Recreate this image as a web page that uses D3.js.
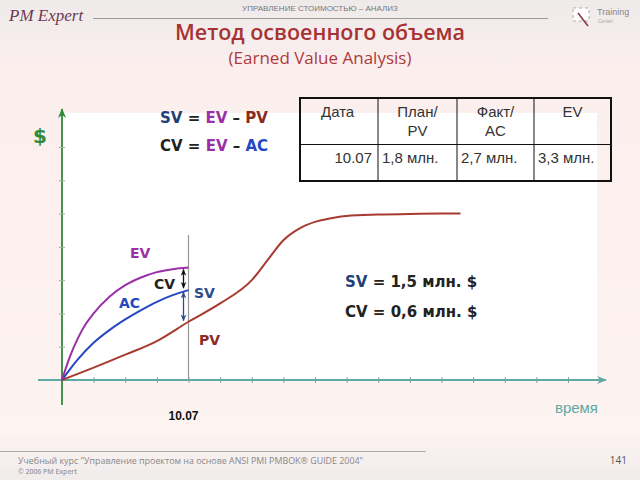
<!DOCTYPE html>
<html><head><meta charset="utf-8">
<script src="https://cdn.jsdelivr.net/npm/d3@7"></script>
<style>body{margin:0;padding:0;overflow:hidden}svg{display:block}</style>
</head><body>
<script>
// ---- data ----
const pvT = [0,1,2,3,4,5,6,6.5,7,7.5,8,8.5,9,10,11,12,12.6];
const pvV = [0,0.37,0.76,1.17,1.75,2.3,3.0,3.6,4.2,4.55,4.75,4.86,4.93,4.97,4.99,5.0,5.0];
const evT = [0,0.25,0.5,0.75,1,1.5,2,2.5,3,3.5,4];
const evV = [0,0.7,1.25,1.68,2.0,2.5,2.85,3.08,3.24,3.33,3.38];
const acT = [0,0.5,1,1.5,2,2.5,3,3.5,4];
const acV = [0,0.62,1.12,1.5,1.82,2.1,2.35,2.55,2.7];
const statusT = 4;
const statusLabel = "10.07";
const xTicks = d3.range(1,17);
const yTicks = d3.range(1,8);
const tableHead = [["Дата"],["План/","PV"],["Факт/","AC"],["EV"]];
const tableRow = ["10.07","1,8 млн.","2,7 млн.","3,3 млн."];
const resultSV = "1,5 млн. $";
const resultCV = "0,6 млн. $";

const W=640,H=480;
const svg=d3.select("body").append("svg").attr("width",W).attr("height",H);
const defs=svg.append("defs");
const bg=defs.append("linearGradient").attr("id","bg").attr("x1",0).attr("y1",0).attr("x2",0).attr("y2",1);
bg.append("stop").attr("offset","0").attr("stop-color","#efeaea");
bg.append("stop").attr("offset","0.15").attr("stop-color","#fbefee");
bg.append("stop").attr("offset","0.9").attr("stop-color","#fdf3f1");
bg.append("stop").attr("offset","1").attr("stop-color","#f0ecec");
svg.append("rect").attr("width",W).attr("height",H).attr("fill","url(#bg)");

function marker(id,color,size){
  defs.append("marker").attr("id",id).attr("viewBox","0 0 10 10").attr("refX",9).attr("refY",5)
   .attr("markerWidth",size).attr("markerHeight",size).attr("orient","auto-start-reverse")
   .attr("markerUnits","userSpaceOnUse")
   .append("path").attr("d","M0,1 L10,5 L0,9 L3,5 Z").attr("fill",color);
}
marker("arrT","#5fa9a3",10);
marker("arrG","#2f8a3a",10);
marker("arrK","#111",7);
marker("arrB","#2d4d8a",7);

// header
svg.append("text").attr("x",9).attr("y",21).text("PM Expert")
  .attr("font-family","Liberation Serif").attr("font-style","italic").attr("font-size",17).attr("fill","#6b3a55");
svg.append("line").attr("x1",93).attr("x2",548).attr("y1",18.5).attr("y2",18.5).attr("stroke","#9a9a9a").attr("stroke-width",1);
svg.append("text").attr("x",320).attr("y",11).attr("text-anchor","middle").text("УПРАВЛЕНИЕ СТОИМОСТЬЮ – АНАЛИЗ")
  .attr("font-family","Liberation Sans Narrow, Liberation Sans").attr("font-size",8).attr("fill","#777");
svg.append("rect").attr("x",573).attr("y",8).attr("width",16).attr("height",13).attr("fill","#fff").attr("stroke","#aaa").attr("stroke-dasharray","3,3");
svg.append("line").attr("x1",578).attr("y1",13).attr("x2",588).attr("y2",26).attr("stroke","#8a3040").attr("stroke-width",1.5);
svg.append("text").attr("x",597).attr("y",15).text("Training").attr("font-family","Liberation Sans").attr("font-size",9).attr("fill","#888");
svg.append("text").attr("x",598).attr("y",23).text("Center").attr("font-family","Liberation Sans").attr("font-size",5).attr("fill","#aaa");

// title
svg.append("text").attr("x",320).attr("y",40).attr("text-anchor","middle").text("Метод освоенного объема")
  .attr("font-family","Open Sans").attr("font-weight",600).attr("font-size",21.5).attr("fill","#a83232");
svg.append("text").attr("x",320).attr("y",64).attr("text-anchor","middle").text("(Earned Value Analysis)")
  .attr("font-family","Open Sans").attr("font-size",17).attr("fill","#b03a3a");

// plot area
svg.append("rect").attr("x",63).attr("y",113).attr("width",534).attr("height",267).attr("fill","#fff");

const x=d3.scaleLinear().domain([0,16]).range([62,568]);
const y=d3.scaleLinear().domain([0,7]).range([380,147]);

// x axis
svg.append("line").attr("x1",38).attr("x2",606).attr("y1",y(0)).attr("y2",y(0))
  .attr("stroke","#5fa9a3").attr("stroke-width",1.8).attr("marker-end","url(#arrT)");
const gx=svg.append("g").attr("transform",`translate(0,${y(0)})`)
  .call(d3.axisBottom(x).tickValues(xTicks).tickFormat("").tickSize(3));
gx.select(".domain").remove();
gx.selectAll("line").attr("y1",-3).attr("y2",3).attr("stroke","#7aa9a5");
// y axis
svg.append("line").attr("x1",x(0)).attr("x2",x(0)).attr("y1",405).attr("y2",109)
  .attr("stroke","#2f8a3a").attr("stroke-width",1.8).attr("marker-end","url(#arrG)");
const gy=svg.append("g").attr("transform",`translate(${x(0)},0)`)
  .call(d3.axisLeft(y).tickValues(yTicks).tickFormat("").tickSize(3));
gy.select(".domain").remove();
gy.selectAll("line").attr("x1",-3).attr("x2",3).attr("stroke","#9ab09e");

// status line
svg.append("line").attr("x1",x(statusT)).attr("x2",x(statusT)).attr("y1",235).attr("y2",y(0))
  .attr("stroke","#999").attr("stroke-width",1.2);

const line=d3.line().x(d=>x(d[0])).y(d=>y(d[1])).curve(d3.curveMonotoneX);
function curve(T,V,color){
  svg.append("path").attr("d",line(T.map((t,i)=>[t,V[i]]))).attr("fill","none")
   .attr("stroke",color).attr("stroke-width",2);
}
curve(pvT,pvV,"#a83a30");
curve(acT,acV,"#2448c2");
curve(evT,evV,"#9a2fa8");

// arrows
const ax=x(statusT)-5;
svg.append("line").attr("x1",ax).attr("x2",ax).attr("y1",y(evV[evV.length-1])+2).attr("y2",y(acV[acV.length-1])-2)
  .attr("stroke","#111").attr("stroke-width",1.3).attr("marker-start","url(#arrK)").attr("marker-end","url(#arrK)");
svg.append("line").attr("x1",ax).attr("x2",ax).attr("y1",y(acV[acV.length-1])+2).attr("y2",y(1.75)-1)
  .attr("stroke","#2d4d8a").attr("stroke-width",1.3).attr("marker-start","url(#arrB)").attr("marker-end","url(#arrB)");

const F="DejaVu Sans";
const FT="Liberation Sans";
function lbl(tx,px,py,color,size){
  svg.append("text").attr("x",px).attr("y",py).text(tx).attr("font-family",F).attr("font-weight","bold")
   .attr("font-size",size||14).attr("fill",color);
}
lbl("EV",130,258,"#9a2fa8");
lbl("AC",119,308,"#2448c2");
lbl("CV",154,289,"#222");
lbl("SV",194,298,"#2d4d8a");
lbl("PV",199,345,"#8b2a22");
lbl("$",33,143,"#2f8a3a",20);

// formulas
function rich(parts,px,py,size){
  const t=svg.append("text").attr("x",px).attr("y",py).attr("font-family",F).attr("font-weight","bold").attr("font-size",size);
  parts.forEach(p=>t.append("tspan").text(p[0]).attr("fill",p[1]));
}
rich([["SV","#1f3f7a"],[" = ","#222"],["EV","#9a2fa8"],[" – ","#222"],["PV","#8b2a22"]],160,123,15);
rich([["CV","#222"],[" = ","#222"],["EV","#9a2fa8"],[" – ","#222"],["AC","#2448c2"]],160,151,15);
rich([["SV","#1f3f7a"],[" = "+resultSV,"#222"]],345,287,15);
rich([["CV","#222"],[" = "+resultCV,"#222"]],345,317,15);

svg.append("text").attr("x",598).attr("y",413).attr("text-anchor","end").text("время")
  .attr("font-family",FT).attr("font-size",15).attr("fill","#5fa9a3");
svg.append("text").attr("x",x(statusT)-5).attr("y",420).attr("text-anchor","middle").text(statusLabel)
  .attr("font-family",FT).attr("font-weight","bold").attr("font-size",12).attr("fill","#111");

// table
const tx0=300,tx1=611,ty0=98,ty1=181,tyMid=144.5;
const colX=[tx0,378,457,534,tx1];
const tg=svg.append("g");
colX.slice(1,4).forEach(cx=>tg.append("line").attr("x1",cx).attr("x2",cx).attr("y1",ty0).attr("y2",ty1).attr("stroke","#111").attr("stroke-width",1));
tg.append("line").attr("x1",tx0).attr("x2",tx1).attr("y1",tyMid).attr("y2",tyMid).attr("stroke","#111").attr("stroke-width",1);
tg.append("rect").attr("x",tx0).attr("y",ty0).attr("width",tx1-tx0).attr("height",ty1-ty0).attr("fill","none").attr("stroke","#111").attr("stroke-width",2);
tableHead.forEach((h,i)=>{
  h.forEach((s,j)=>{
    tg.append("text").attr("x",i===0?321:(colX[i]+colX[i+1])/2).attr("y",117+j*18.5)
     .attr("text-anchor",i===0?"start":"middle").text(s).attr("font-family",FT).attr("font-size",15).attr("fill","#333");
  });
});
tableRow.forEach((s,i)=>{
  tg.append("text").attr("x",i===0?colX[1]-6:colX[i]+4).attr("y",163)
   .attr("text-anchor",i===0?"end":"start").text(s).attr("font-family",FT).attr("font-size",15).attr("fill","#333");
});

// footer
svg.append("line").attr("x1",0).attr("x2",426).attr("y1",451.5).attr("y2",451.5).attr("stroke","#aaa").attr("stroke-width",1);
svg.append("text").attr("x",18).attr("y",464).text("Учебный курс \"Управление проектом на основе ANSI PMI PMBOK® GUIDE 2004\"")
  .attr("font-family","Open Sans").attr("font-size",8.9).attr("fill","#888");
svg.append("text").attr("x",18).attr("y",474).text("© 2006 PM Expert")
  .attr("font-family","Open Sans").attr("font-weight",600).attr("font-size",6.9).attr("fill","#999");
svg.append("text").attr("x",627).attr("y",464).attr("text-anchor","end").text("141")
  .attr("font-family","Open Sans").attr("font-size",10).attr("fill","#555");
</script>
</body></html>
